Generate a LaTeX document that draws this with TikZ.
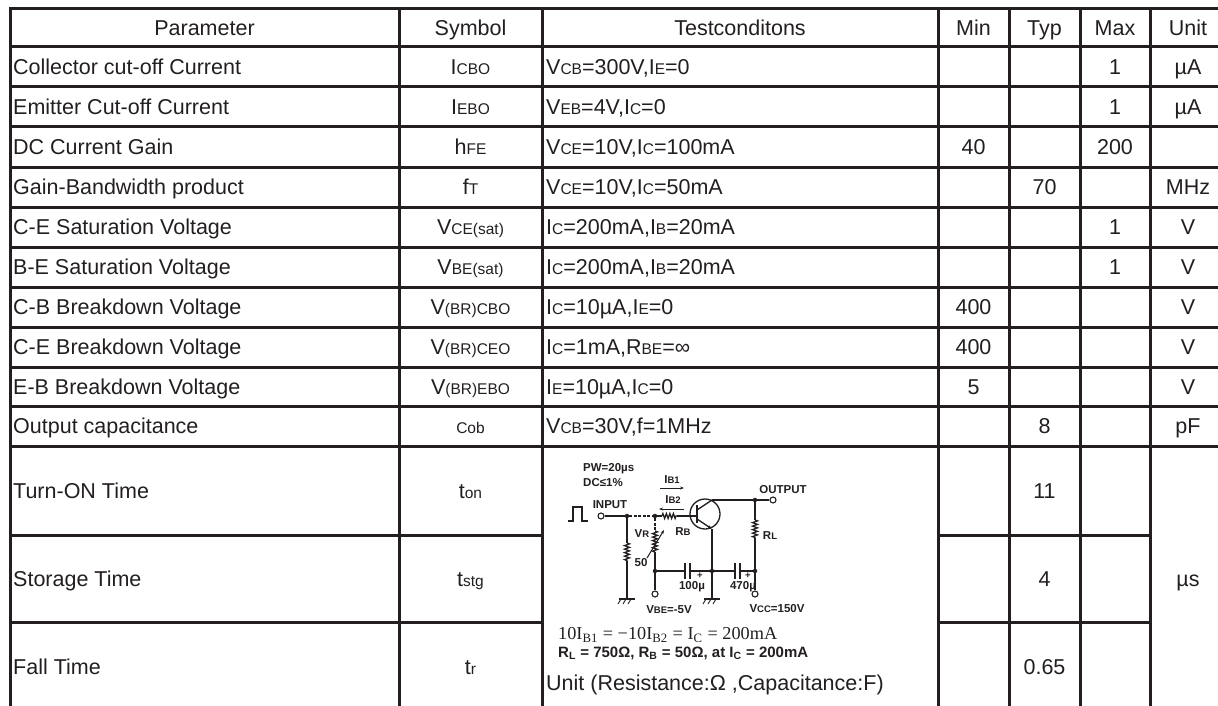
\documentclass[tikz,border=0pt]{standalone}
\usepackage{fontspec}
\usepackage{graphicx}
\setmainfont{Liberation Sans}
\newfontfamily\serifface{Liberation Serif}
\usetikzlibrary{decorations.pathmorphing,arrows.meta}
\definecolor{ink}{RGB}{35,31,32}
\newcommand\fs{\fontsize{21.5}{24}\selectfont}
\newcommand\subt[1]{{\fontsize{15.5}{16}\selectfont #1}}
\newcommand\cf{\fontsize{11.5}{12}\selectfont\bfseries}
\newcommand\cs[1]{{\fontsize{9.5}{10}\selectfont #1}}
\begin{document}
\begin{tikzpicture}[x=1pt,y=-1pt,
  grid/.style={draw=ink, line width=3pt, line cap=rect},
  txt/.style={inner sep=0pt, text=ink, font=\fs},
  lft/.style={txt, anchor=base west, yshift=-7.7pt},
  ctr/.style={txt, anchor=base, yshift=-7.7pt},
  wire/.style={draw=ink, line width=1.3pt},
  lab/.style={inner sep=0pt, text=ink, font=\cf},
  dot/.style={circle, fill=ink, inner sep=0pt, minimum size=4.5pt},
  term/.style={circle, draw=ink, line width=1.1pt, fill=white, inner sep=0pt, minimum size=6pt},
  res/.style={decorate, decoration={zigzag, amplitude=2.5pt, segment length=3.5pt}}
]
\useasboundingbox (0,0) rectangle (1218,706);
\fill[white] (0,0) rectangle (1218,706);

% ---------- grid ----------
\foreach \yy in {9,47,87,127,167,207,247,287,327,367,406,446,712}
  \draw[grid] (10,\yy) -- (1230,\yy);
\foreach \yy in {535,622} {
  \draw[grid] (10,\yy) -- (542,\yy);
  \draw[grid] (938,\yy) -- (1150,\yy);
}
\foreach \xx in {10,399,542,938,1009,1080,1150,1226}
  \draw[grid] (\xx,9) -- (\xx,712);

% ---------- header ----------
\node[ctr] (hp) at (204.5,28) {Parameter};
\node[ctr] (hs) at (470.5,28) {Symbol};
\node[ctr] (ht) at (740,28) {Testconditons};
\node[ctr] (hmin) at (973.5,28) {Min};
\node[ctr] (htyp) at (1044.5,28) {Typ};
\node[ctr] (hmax) at (1115,28) {Max};
\node[ctr] (hu) at (1188,28) {Unit};

% ---------- rows ----------
\node[lft] (p1) at (13,67) {Collector cut-off Current};
\node[ctr] (s1) at (470.5,67) {I\subt{CBO}};
\node[lft] (c1) at (546,67) {V\subt{CB}=300V,I\subt{E}=0};
\node[ctr] (x1) at (1115,67) {1};
\node[ctr] (u1) at (1188,67) {µA};

\node[lft] (p2) at (13,107) {Emitter Cut-off Current};
\node[ctr] (s2) at (470.5,107) {I\subt{EBO}};
\node[lft] (c2) at (546,107) {V\subt{EB}=4V,I\subt{C}=0};
\node[ctr] (x2) at (1115,107) {1};
\node[ctr] (u2) at (1188,107) {µA};

\node[lft] (p3) at (13,147) {DC Current Gain};
\node[ctr] (s3) at (470.5,147) {h\subt{FE}};
\node[lft] (c3) at (546,147) {V\subt{CE}=10V,I\subt{C}=100mA};
\node[ctr] (n3) at (973.5,147) {40};
\node[ctr] (x3) at (1115,147) {200};

\node[lft] (p4) at (13,187) {Gain-Bandwidth product};
\node[ctr] (s4) at (470.5,187) {f\subt{T}};
\node[lft] (c4) at (546,187) {V\subt{CE}=10V,I\subt{C}=50mA};
\node[ctr] (t4) at (1044.5,187) {70};
\node[ctr] (u4) at (1188,187) {MHz};

\node[lft] (p5) at (13,227) {C-E Saturation Voltage};
\node[ctr] (s5) at (470.5,227) {V\subt{CE(sat)}};
\node[lft] (c5) at (546,227) {I\subt{C}=200mA,I\subt{B}=20mA};
\node[ctr] (x5) at (1115,227) {1};
\node[ctr] (u5) at (1188,227) {V};

\node[lft] (p6) at (13,267) {B-E Saturation Voltage};
\node[ctr] (s6) at (470.5,267) {V\subt{BE(sat)}};
\node[lft] (c6) at (546,267) {I\subt{C}=200mA,I\subt{B}=20mA};
\node[ctr] (x6) at (1115,267) {1};
\node[ctr] (u6) at (1188,267) {V};

\node[lft] (p7) at (13,307) {C-B Breakdown Voltage};
\node[ctr] (s7) at (470.5,307) {V\subt{(BR)CBO}};
\node[lft] (c7) at (546,307) {I\subt{C}=10µA,I\subt{E}=0};
\node[ctr] (n7) at (973.5,307) {400};
\node[ctr] (u7) at (1188,307) {V};

\node[lft] (p8) at (13,347) {C-E Breakdown Voltage};
\node[ctr] (s8) at (470.5,347) {V\subt{(BR)CEO}};
\node[lft] (c8) at (546,347) {I\subt{C}=1mA,R\subt{BE}=∞};
\node[ctr] (n8) at (973.5,347) {400};
\node[ctr] (u8) at (1188,347) {V};

\node[lft] (p9) at (13,386.5) {E-B Breakdown Voltage};
\node[ctr] (s9) at (470.5,386.5) {V\subt{(BR)EBO}};
\node[lft] (c9) at (546,386.5) {I\subt{E}=10µA,I\subt{C}=0};
\node[ctr] (n9) at (973.5,386.5) {5};
\node[ctr] (u9) at (1188,386.5) {V};

\node[lft] (p10) at (13,426) {Output capacitance};
\node[ctr] (s10) at (470.5,426) {\subt{Cob}};
\node[lft] (c10) at (546,426) {V\subt{CB}=30V,f=1MHz};
\node[ctr] (t10) at (1044.5,426) {8};
\node[ctr] (u10) at (1188,426) {pF};

\node[lft] (p11) at (13,490.5) {Turn-ON Time};
\node[ctr] (s11) at (470.5,490.5) {t\subt{on}};
\node[ctr] (t11) at (1044.5,490.5) {11};

\node[lft] (p12) at (13,578.5) {Storage Time};
\node[ctr] (s12) at (470.5,578.5) {t\subt{stg}};
\node[ctr] (t12) at (1044.5,578.5) {4};
\node[ctr] (u12) at (1188,578.5) {µs};

\node[lft] (p13) at (13,667) {Fall Time};
\node[ctr] (s13) at (470.5,667) {t\subt{r}};
\node[ctr] (t13) at (1044.5,667) {0.65};

\node[lft] (unitnote) at (546,683) {Unit (Resistance:Ω ,Capacitance:F)};

% ---------- circuit ----------
\draw[wire] (568,521) -- (573,521) -- (573,507) -- (582,507) -- (582,521) -- (588,521);
\node[lab, anchor=west] (pw) at (583,469) {PW=20µs};
\node[lab, anchor=west] (dc) at (583,483) {DC≤1\%};
\node[lab] (inl) at (610,505) {INPUT};

\node[term] (tin) at (601,516) {};
\node[dot] (j1) at (627,516) {};
\node[dot] (j2) at (655,516) {};
\coordinate (rb1) at (662,516);
\coordinate (rb2) at (677,516);
\coordinate (bs) at (697,516);
\draw[wire] (tin) -- (j1);
\draw[wire, dash pattern=on 3pt off 1.5pt] (j1) -- (j2);
\draw[wire] (j2) -- (rb1);
\draw[wire, res] (rb1) -- (rb2);
\draw[wire] (rb2) -- (bs);

% transistor
\node[circle, draw=ink, line width=1.3pt, minimum size=30pt, inner sep=0pt] (q) at (705,514) {};
\draw[ink, line width=2.2pt] (697,505) -- (697,523);
\coordinate (col) at (712,500);
\coordinate (emt) at (712,529);
\draw[wire] (697,510) -- (col);
\draw[wire, -{Latex[length=4pt,width=3.5pt]}] (697,519) -- (emt);

\node[dot] (j3) at (755,500) {};
\node[term] (tout) at (773,500) {};
\draw[wire] (col) -- (j3) -- (tout);
\node[lab] (outl) at (783,490) {OUTPUT};

% base current labels
\node[lab] (ib1) at (672,480) {I\cs{B1}};
\draw[ink, line width=1pt, -{Stealth[length=4pt]}] (660,488) -- (684,488);
\node[lab] (ib2) at (673,500) {I\cs{B2}};
\draw[ink, line width=1pt, -{Stealth[length=4pt]}] (684,509) -- (659,509);
\node[lab] (rbl) at (683,532) {R\cs{B}};

% bottom rail
\node[dot] (j4) at (655,571) {};
\node[dot] (j5) at (712,571) {};
\node[dot] (j6) at (755,571) {};
\draw[wire] (j4) -- (685,571);
\draw[wire] (685,563) -- (685,579);
\draw[wire] (690,563) -- (690,579);
\draw[wire] (690,571) -- (j5) -- (735,571);
\draw[wire] (735,563) -- (735,579);
\draw[wire] (740,563) -- (740,579);
\draw[wire] (740,571) -- (j6);
\node[lab] (pl1) at (700,576) {\cs{+}};
\node[lab] (pl2) at (748,576) {\cs{+}};
\node[lab] (c100) at (692,587) {100µ};
\node[lab] (c470) at (743,587) {470µ};

% RL branch
\coordinate (rl1) at (755,520);
\coordinate (rl2) at (755,538);
\draw[wire] (j3) -- (rl1);
\draw[wire, res] (rl1) -- (rl2);
\draw[wire] (rl2) -- (j6);
\node[lab] (rll) at (770,536) {R\cs{L}};
\node[term] (tvcc) at (755,594) {};
\draw[wire] (j6) -- (tvcc);
\node[lab] (vccl) at (777,609) {V\cs{CC}=150V};

% VR branch
\coordinate (vr0) at (655,531);
\coordinate (vr1) at (655,552);
\draw[wire, dash pattern=on 3pt off 1.5pt] (j2) -- (vr0);
\draw[wire, res] (vr0) -- (vr1);
\draw[wire] (vr1) -- (j4);
\draw[ink, line width=1pt, -{Stealth[length=4pt]}] (647,558) -- (664,530);
\node[lab] (vrl) at (642,534) {V\cs{R}};
\node[term] (tvbe) at (655,594) {};
\draw[wire] (j4) -- (tvbe);
\node[lab] (vbel) at (669,610) {V\cs{BE}=-5V};

% 50 ohm branch
\coordinate (r50a) at (627,543);
\coordinate (r50b) at (627,561);
\coordinate (g1) at (627,599);
\draw[wire] (j1) -- (r50a);
\draw[wire, res] (r50a) -- (r50b);
\draw[wire] (r50b) -- (g1);
\node[lab] (r50l) at (641,563) {50};

% emitter to ground
\coordinate (g2) at (712,599);
\draw[wire] (emt) -- (j5) -- (g2);

% grounds
\foreach \g in {g1,g2} {
  \draw[wire] ([xshift=-8pt]\g) -- ([xshift=8pt]\g);
  \foreach \dx in {-6,-1,4}
    \draw[ink, line width=0.9pt] ([xshift=\dx pt]\g) -- ([xshift=\dx pt-3pt, yshift=-5pt]\g);
}

% equations
\node[inner sep=0pt, anchor=west, text=ink] (eq1) at (558,635)
  {\resizebox{219pt}{!}{\serifface 10I\textsubscript{B1} = −10I\textsubscript{B2} = I\textsubscript{C} = 200mA}};
\node[inner sep=0pt, anchor=west, text=ink] (eq2) at (558,653)
  {\resizebox{250pt}{!}{\bfseries R\textsubscript{L} = 750Ω, R\textsubscript{B} = 50Ω, at I\textsubscript{C} = 200mA}};
\end{tikzpicture}
\end{document}
